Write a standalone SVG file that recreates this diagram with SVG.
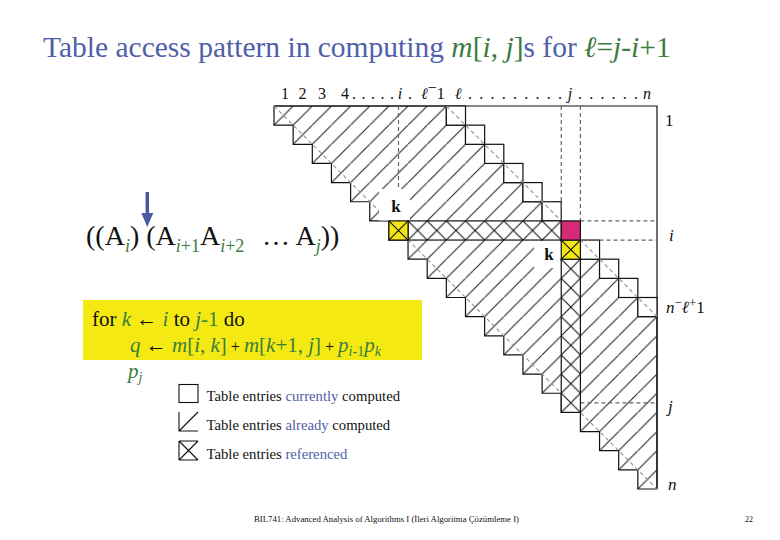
<svg xmlns="http://www.w3.org/2000/svg" width="780" height="540" viewBox="0 0 780 540">
<defs>
<style>
text { font-family: "Liberation Serif", "Times New Roman", serif; fill: #111; }
.gi { fill: #3b7d3f; font-style: italic; }
.gr { fill: #3b7d3f; }
.bl { fill: #5060a8; }
.it { font-style: italic; }
.ol { fill: none; stroke: #111; stroke-width: 1.2; }
.cur { fill: #fff; stroke: #111; stroke-width: 1.2; }
.dash { stroke: #666; stroke-width: 1.2; stroke-dasharray: 4 3; fill: none; }
.gdiag { stroke: #9a9a9a; stroke-width: 1.2; stroke-dasharray: 4 3; fill: none; }
.xs { fill: url(#xpat); stroke: #111; stroke-width: 1.2; }
.lbl { font-size: 16px; }
.rl { font-size: 17px; }
.lg { font-size: 14.7px; }
</style>
<pattern id="hatch" patternUnits="userSpaceOnUse" x="274" y="106" width="19.15" height="19.15">
<line x1="-1" y1="20.15" x2="20.15" y2="-1" stroke="#1a1a1a" stroke-width="1"/>
</pattern>
<pattern id="xpat" patternUnits="userSpaceOnUse" x="274" y="106" width="19.15" height="19.15">
<rect width="19.15" height="19.15" fill="#fff"/>
<path d="M0,0L19.15,19.15M0,19.15L19.15,0" stroke="#111" stroke-width="1.1"/>
</pattern>
</defs>
<rect width="780" height="540" fill="#fff"/>

<g id="title">
<text x="43" y="57" font-size="29.5" class="bl">Table access pattern in computing <tspan class="gi">m</tspan><tspan class="gr">[</tspan><tspan class="gi">i</tspan><tspan class="gr">, </tspan><tspan class="gi">j</tspan><tspan class="gr">]</tspan>s for <tspan class="gi">ℓ</tspan><tspan class="gr">=</tspan><tspan class="gi">j</tspan><tspan class="gr">-</tspan><tspan class="gi">i</tspan><tspan class="gr">+1</tspan></text>
</g>

<g id="table">
<!-- already computed band (diagonals 0..8) -->
<polygon fill="url(#hatch)" stroke="#111" stroke-width="1.2" points="274,106 446.35,106 446.35,125.15 465.5,125.15 465.5,144.3 484.65,144.3 484.65,163.45 503.8,163.45 503.8,182.6 522.95,182.6 522.95,201.75 542.1,201.75 542.1,220.9 561.25,220.9 561.25,240.05 580.4,240.05 580.4,259.2 599.55,259.2 599.55,278.35 618.7,278.35 618.7,297.5 637.85,297.5 637.85,316.65 657,316.65 657,489 637.85,489 637.85,469.85 618.7,469.85 618.7,450.7 599.55,450.7 599.55,431.55 580.4,431.55 580.4,412.4 561.25,412.4 561.25,393.25 542.1,393.25 542.1,374.1 522.95,374.1 522.95,354.95 503.8,354.95 503.8,335.8 484.65,335.8 484.65,316.65 465.5,316.65 465.5,297.5 446.35,297.5 446.35,278.35 427.2,278.35 427.2,259.2 408.05,259.2 408.05,240.05 388.9,240.05 388.9,220.9 369.75,220.9 369.75,201.75 350.6,201.75 350.6,182.6 331.45,182.6 331.45,163.45 312.3,163.45 312.3,144.3 293.15,144.3 293.15,125.15 274,125.15"/>
<!-- outer border -->
<path class="ol" d="M274,106H657V489"/>
<!-- currently computed diagonal -->
<rect class="cur" x="446.35" y="106" width="19.15" height="19.15"/>
<rect class="cur" x="465.5" y="125.15" width="19.15" height="19.15"/>
<rect class="cur" x="484.65" y="144.3" width="19.15" height="19.15"/>
<rect class="cur" x="503.8" y="163.45" width="19.15" height="19.15"/>
<rect class="cur" x="522.95" y="182.6" width="19.15" height="19.15"/>
<rect class="cur" x="542.1" y="201.75" width="19.15" height="19.15"/>
<rect class="cur" x="580.4" y="240.05" width="19.15" height="19.15"/>
<rect class="cur" x="599.55" y="259.2" width="19.15" height="19.15"/>
<rect class="cur" x="618.7" y="278.35" width="19.15" height="19.15"/>
<rect class="cur" x="637.85" y="297.5" width="19.15" height="19.15"/>
<!-- gray diagonals -->
<line class="gdiag" x1="274" y1="106" x2="657" y2="489"/>
<line class="gdiag" x1="446.35" y1="106" x2="657" y2="316.65"/>
<!-- dashed guides -->
<line class="dash" x1="398.5" y1="106" x2="398.5" y2="220.9"/>
<line class="dash" x1="561.25" y1="106" x2="561.25" y2="220.9"/>
<line class="dash" x1="580.4" y1="106" x2="580.4" y2="220.9"/>
<line class="dash" x1="580.4" y1="220.9" x2="657" y2="220.9"/>
<line class="dash" x1="599.55" y1="240.05" x2="657" y2="240.05"/>
<line class="dash" x1="580.4" y1="402.8" x2="657" y2="402.8"/>
<!-- k label backgrounds -->
<rect x="379" y="189" width="31" height="31.5" fill="#fff"/>
<rect x="534" y="241" width="26.5" height="27" fill="#fff"/>
<!-- referenced entries -->
<rect class="xs" x="408.05" y="220.9" width="153.2" height="19.15"/>
<rect class="xs" x="561.25" y="259.2" width="19.15" height="153.2"/>
<rect x="388.9" y="220.9" width="19.15" height="19.15" fill="#f3e614" stroke="#111" stroke-width="1.2"/>
<path d="M388.9,220.9L408.05,240.05M388.9,240.05L408.05,220.9" stroke="#111" stroke-width="1.1"/>
<rect x="561.25" y="240.05" width="19.15" height="19.15" fill="#f3e614" stroke="#111" stroke-width="1.2"/>
<path d="M561.25,240.05L580.4,259.2M561.25,259.2L580.4,240.05" stroke="#111" stroke-width="1.1"/>
<!-- current m[i,j] -->
<rect x="561.25" y="220.9" width="19.15" height="19.15" fill="#d42a78" stroke="#111" stroke-width="1.2"/>
<text x="396" y="212" font-size="17" font-weight="bold" text-anchor="middle">k</text>
<text x="549" y="259.5" font-size="17" font-weight="bold" text-anchor="middle">k</text>
</g>

<g id="top-labels" class="lbl">
<text x="285" y="99" text-anchor="middle" font-size="16">1</text>
<text x="302.5" y="99" text-anchor="middle" font-size="16">2</text>
<text x="322" y="99" text-anchor="middle" font-size="16">3</text>
<text x="345" y="99" text-anchor="middle" font-size="16">4</text>
<text x="352" y="99" font-size="16" textLength="42" lengthAdjust="spacing">. . . . .</text>
<text x="400" y="99" text-anchor="middle" font-size="16" class="it">i</text>
<text x="408" y="99" font-size="16">.</text>
<text x="421" y="99" font-size="16" class="it">ℓ<tspan dy="-6" font-style="normal">−</tspan><tspan dy="6" font-style="normal">1</tspan></text>
<text x="458" y="99" text-anchor="middle" font-size="16" class="it">ℓ</text>
<text x="468" y="99" font-size="16" textLength="94" lengthAdjust="spacing">. . . . . . . . .</text>
<text x="570" y="99" text-anchor="middle" font-size="16" class="it">j</text>
<text x="578" y="99" font-size="16" textLength="60" lengthAdjust="spacing">. . . . . .</text>
<text x="647" y="99" text-anchor="middle" font-size="16" class="it">n</text>
</g>

<g id="right-labels">
<text x="665" y="126" font-size="17">1</text>
<text x="669" y="241" font-size="17" class="it">i</text>
<text x="666" y="313" font-size="17"><tspan font-style="italic">n</tspan><tspan dy="-6" font-size="13">−</tspan><tspan dy="6" font-style="italic">ℓ</tspan><tspan dy="-6" font-size="13">+</tspan><tspan dy="6">1</tspan></text>
<text x="668" y="412" font-size="17" class="it">j</text>
<text x="668" y="490" font-size="17" class="it">n</text>
</g>

<g id="connectors">
<line x1="147.3" y1="192" x2="147.3" y2="215" stroke="#4b5aa0" stroke-width="3.5"/>
<polygon points="141.3,213 153.3,213 147.3,227" fill="#4b5aa0"/>
</g>

<g id="formula">
<text x="86" y="245" font-size="28">((A<tspan class="gi" font-size="18" dy="7">i</tspan><tspan dy="-7">) (A</tspan><tspan class="gi" font-size="18" dy="7">i</tspan><tspan class="gr" font-size="18">+1</tspan><tspan dy="-7">A</tspan><tspan class="gi" font-size="18" dy="7">i</tspan><tspan class="gr" font-size="18">+2</tspan><tspan dy="-7" x="262">… A</tspan><tspan class="gi" font-size="18" dy="7">j</tspan><tspan dy="-7">))</tspan></text>
</g>

<g id="code">
<rect x="83" y="300" width="339" height="60" fill="#f4e912"/>
<text x="92" y="326" font-size="21">for <tspan class="gi">k</tspan> ← <tspan class="gi">i</tspan> to <tspan class="gi">j</tspan><tspan class="gr">-1</tspan> do</text>
<text x="130" y="352" font-size="21"><tspan class="gi">q</tspan> ← <tspan class="gi">m</tspan><tspan class="gr">[</tspan><tspan class="gi">i</tspan><tspan class="gr">, </tspan><tspan class="gi">k</tspan><tspan class="gr">]</tspan><tspan font-size="16"> + </tspan><tspan class="gi">m</tspan><tspan class="gr">[</tspan><tspan class="gi">k</tspan><tspan class="gr">+1, </tspan><tspan class="gi">j</tspan><tspan class="gr">]</tspan><tspan font-size="16"> + </tspan><tspan class="gi">p</tspan><tspan class="gi" font-size="14" dy="4">i</tspan><tspan class="gr" font-size="14">-1</tspan><tspan class="gi" dy="-4">p</tspan><tspan class="gi" font-size="14" dy="4">k</tspan></text>
<text x="128" y="378" font-size="21"><tspan class="gi">p</tspan><tspan class="gi" font-size="14" dy="4">j</tspan></text>
</g>

<g id="legend">
<rect x="179" y="384.5" width="19" height="18" fill="none" stroke="#111" stroke-width="1.1"/>
<path d="M179,412V431H198M179,431L198,412" fill="none" stroke="#111" stroke-width="1.1"/>
<path d="M179,441V460M179,441H198M179,460H198M179,441L198,460M179,460L198,441" fill="none" stroke="#111" stroke-width="1.1"/>
<text x="206.5" y="401" class="lg">Table entries <tspan class="bl">currently</tspan> computed</text>
<text x="206.5" y="430" class="lg">Table entries <tspan class="bl">already</tspan> computed</text>
<text x="206.5" y="459" class="lg">Table entries <tspan class="bl">referenced</tspan></text>
</g>

<g id="footer">
<text x="254" y="522" font-size="8" textLength="265" lengthAdjust="spacingAndGlyphs">BIL741: Advanced Analysis of Algorithms I (İleri Algoritma Çözümleme I)</text>
<text x="745" y="522" font-size="8">22</text>
</g>
</svg>
